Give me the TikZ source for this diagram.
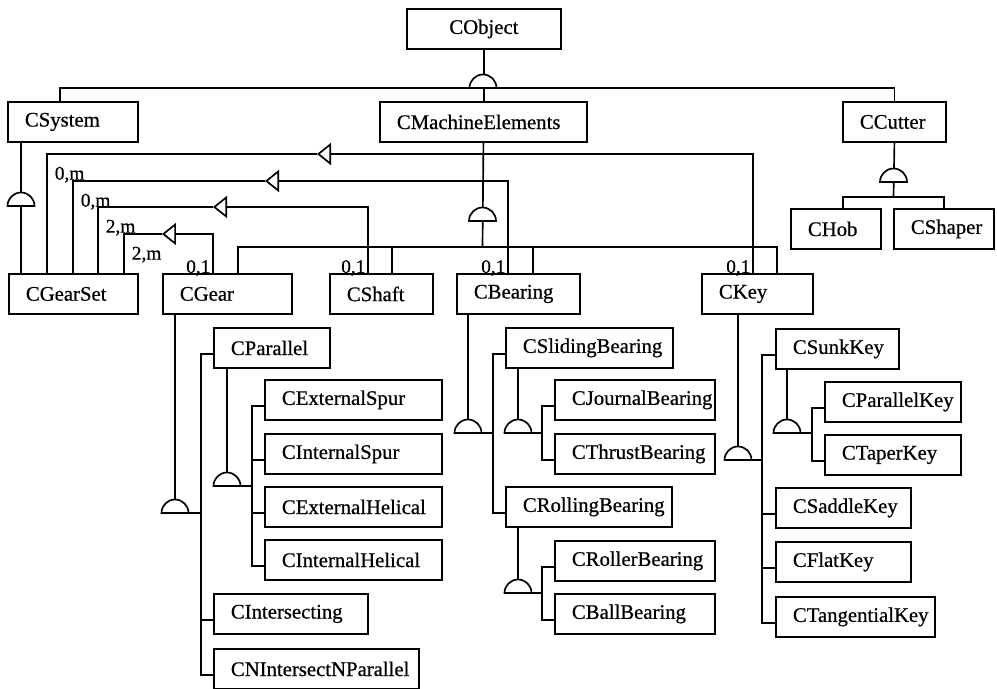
\documentclass[tikz,border=0pt]{standalone}
\usepackage{fontspec}
\setmainfont{Liberation Serif}
\newfontfamily\clsfont{Liberation Serif}[FakeBold=0.6]
\usetikzlibrary{arrows.meta}

\tikzset{
	cls/.style={draw,line width=1.05pt,anchor=north west,minimum height=0.8cm,inner sep=0pt,font=\clsfont\fontsize{11.8}{14}\selectfont},
	link/.style={line width=0.95pt},
	agg/.style={link,-{Triangle[open,length=0.28cm,width=0.44cm,line width=0.95pt]}},
	mult/.style={font=\clsfont\fontsize{11}{13}\selectfont,inner sep=1pt},
	multm/.style={mult,anchor=north west,xshift=3pt,yshift=-5.8pt},
	inh/.pic={\draw[link,fill=white] (-13.5,0) arc[start angle=180,end angle=360,radius=13.5] -- cycle;}
}

\begin{document}
\begin{tikzpicture}[x=0.02cm,y=-0.02cm]
	\useasboundingbox (0,0) rectangle (997,689);

	\node[cls] (cobj) at (406,8) {\makebox[3.08cm]{CObject}};
	\foreach \nm/\x/\y/\w/\txt in {
		csys/7/101/130/CSystem, cme/379/101/207/CMachineElements, ccut/842/101/103/CCutter,
		chob/790/208/90/CHob, cshaper/893/208/100/CShaper,
		cgs/8/273/129/CGearSet, cgear/162/273/129/CGear, cshaft/329/273/103/CShaft,
		cbear/456/273/123/CBearing, ckey/701/273/111/CKey,
		cpar/213/327/116/CParallel, cexs/264/379/177/CExternalSpur, cins/264/433/177/CInternalSpur,
		cexh/264/486/177/CExternalHelical, cinh/264/539/177/CInternalHelical,
		cint/213/593/154/CIntersecting, cnin/213/648/205/CNIntersectNParallel,
		cslid/505/327/167/CSlidingBearing, cjour/554/379/160/CJournalBearing, cthr/554/433/160/CThrustBearing,
		croll/505/486/166/CRollingBearing, croller/554/540/160/CRollerBearing, cball/554/593/160/CBallBearing,
		csunk/775/328/123/CSunkKey, cpk/824/381/136/CParallelKey, ctk/824/434/136/CTaperKey,
		csad/775/487/135/CSaddleKey, cflat/775/541/135/CFlatKey, ctan/775/596/159/CTangentialKey} {
		\pgfmathsetmacro{\bw}{\w*0.02}
		\node[cls] (\nm) at (\x,\y) {\makebox[\bw cm][l]{\hspace{0.34cm}\txt}};
	}

	\coordinate (d0) at (483,88);
	\draw[link] (cobj.south) -- (cobj.south |- cme.north);
	\draw[link] (60,0 |- csys.north) |- (d0) -| (ccut.north);
	\pic at (d0) {inh};

	\draw[link] (21,0 |- csys.south) -- (21,0 |- cgs.north);
	\pic at (21,206) {inh};

	\coordinate (j1) at (893.5,197);
	\draw[link] (ccut.south) -- (j1);
	\draw[link] (843,0 |- chob.north) |- (j1) -| (944,0 |- cshaper.north);
	\pic at (893.5,182) {inh};

	\coordinate (j2) at (482.5,247);
	\draw[link] (cme.south) -- (j2);
	\draw[link] (238,0 |- cgear.north) |- (j2) -| (777,0 |- ckey.north);
	\foreach \nm/\x in {cshaft/392,cbear/533}
		\draw[link] (\x,0 |- \nm.north) -- (\x,0 |- j2);
	\pic at (482.5,221) {inh};

	\foreach \nm/\x/\y/\tx/\gx/\lo/\hi in {
		ckey/753/154/317/47/{0,1}/{0,m}, cbear/508/181/265/73/{0,1}/{0,m},
		cshaft/368/207/213/98/{0,1}/{2,m}, cgear/213/234/162/124/{0,1}/{2,m}} {
		\coordinate (t) at (\tx,\y);
		\draw[agg] (\x,0 |- \nm.north) node[mult,anchor=base east] {\lo} |- (t);
		\draw[link] (t) -| node[multm,pos=0.5] {\hi} (\gx,0 |- cgs.north);
	}

	\foreach \p/\x/\y/\bx/\kids in {
		cgear/175/513/201/{cpar,cint,cnin}, cpar/227/486/252/{cexs,cins,cexh,cinh},
		cbear/468/433/493/{cslid,croll}, cslid/518/433/542/{cjour,cthr},
		croll/518/593/542/{croller,cball}, ckey/738/460/762/{csunk,csad,cflat,ctan},
		csunk/787/433/812/{cpk,ctk}} {
		\draw[link] (\x,0 |- \p.south) -- (\x,\y) -- (\bx,\y);
		\foreach \k in \kids
			\draw[link] (\bx,\y) |- ([yshift=-0.12cm]\k.west);
		\pic at (\x,\y) {inh};
	}
\end{tikzpicture}
\end{document}
